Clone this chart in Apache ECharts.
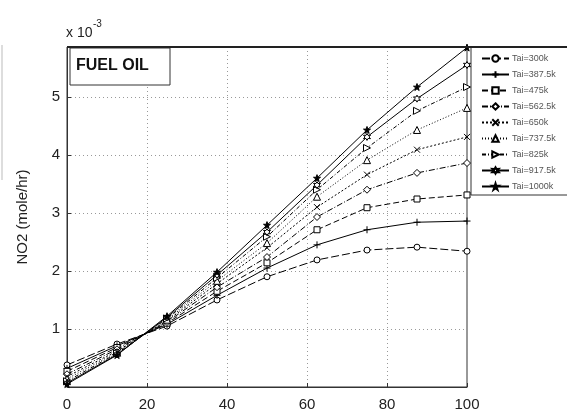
<!DOCTYPE html>
<html>
<head>
<meta charset="utf-8">
<script src="https://cdn.jsdelivr.net/npm/echarts@6/dist/echarts.min.js"></script>
<style>html,body{margin:0;padding:0;background:#fff}#c{width:567px;height:416px}</style>
</head>
<body>
<div id="c"></div>
<script>
const xValues = [0, 12.5, 25, 37.5, 50, 62.5, 75, 87.5, 100];
const seriesNames = ['Tai=300k','Tai=387.5k','Tai=475k','Tai=562.5k','Tai=650k','Tai=737.5k','Tai=825k','Tai=917.5k','Tai=1000k'];
const t300   = [0.38, 0.74, 1.05, 1.50, 1.90, 2.19, 2.36, 2.41, 2.34];
const t387   = [0.32, 0.71, 1.08, 1.58, 2.05, 2.45, 2.71, 2.84, 2.86];
const t475   = [0.27, 0.68, 1.10, 1.65, 2.14, 2.71, 3.09, 3.24, 3.31];
const t562   = [0.22, 0.65, 1.12, 1.72, 2.24, 2.93, 3.40, 3.69, 3.86];
const t650   = [0.18, 0.62, 1.14, 1.78, 2.40, 3.10, 3.66, 4.09, 4.31];
const t737   = [0.14, 0.60, 1.16, 1.83, 2.48, 3.28, 3.91, 4.43, 4.81];
const t825   = [0.10, 0.58, 1.18, 1.88, 2.59, 3.40, 4.12, 4.76, 5.17];
const t917   = [0.07, 0.56, 1.20, 1.93, 2.67, 3.48, 4.31, 4.97, 5.55];
const t1000  = [0.05, 0.55, 1.22, 1.98, 2.79, 3.60, 4.43, 5.17, 5.85];
const xTicks = [0, 20, 40, 60, 80, 100];
const yTicks = [1, 2, 3, 4, 5];

const allData = [t300, t387, t475, t562, t650, t737, t825, t917, t1000];
const star6 = 'path://M5,0L6.3,2.8L9.3,2.5L7.5,5L9.3,7.5L6.3,7.2L5,10L3.7,7.2L0.7,7.5L2.5,5L0.7,2.5L3.7,2.8Z';
const star5 = 'path://M5,0L6.2,3.6L10,3.6L6.9,5.8L8.1,9.5L5,7.2L1.9,9.5L3.1,5.8L0,3.6L3.8,3.6Z';
const styles = [
  {symbol:'circle', rot:0, dash:[8,3], fill:'#fff', size:6},
  {symbol:'path://M0,5L10,5M5,0L5,10', rot:0, dash:'solid', fill:'#fff', size:7},
  {symbol:'rect', rot:0, dash:[6,3], fill:'#fff', size:6},
  {symbol:'diamond', rot:0, dash:[6,2,1,2], fill:'#fff', size:7},
  {symbol:'path://M0,0L10,10M10,0L0,10', rot:0, dash:[2,2], fill:'#fff', size:6},
  {symbol:'triangle', rot:0, dash:[1,2], fill:'#fff', size:7},
  {symbol:'triangle', rot:-90, dash:[4,2,1,2], fill:'#fff', size:7},
  {symbol:star6, rot:0, dash:'solid', fill:'#fff', size:7},
  {symbol:star5, rot:0, dash:'solid', fill:'#000', size:7}
];

const series = seriesNames.map((name, i) => ({
  name: name,
  type: 'line',
  data: xValues.map((x, j) => [x, allData[i][j]]),
  symbol: styles[i].symbol,
  symbolRotate: styles[i].rot,
  symbolSize: styles[i].size,
  showAllSymbol: true,
  lineStyle: {color: '#000', width: 1, type: styles[i].dash},
  itemStyle: {color: styles[i].fill, borderColor: '#000', borderWidth: 1},
  emphasis: {disabled: true},
  animation: false,
  z: 3 + i
}));

const chart = echarts.init(document.getElementById('c'), null, {renderer: 'canvas'});
chart.setOption({
  animation: false,
  backgroundColor: '#fff',
  grid: {left: 67, right: 100, top: 47, bottom: 29, show: true, borderColor: '#333', borderWidth: 1},
  xAxis: {
    type: 'value', min: 0, max: 100, interval: 20,
    axisLine: {show: true, lineStyle: {color: '#333'}},
    axisTick: {show: true, inside: true, length: 4, lineStyle: {color: '#333'}},
    axisLabel: {color: '#222', fontSize: 15, fontFamily: 'Liberation Sans, Arial, sans-serif', margin: 10,
      formatter: v => xTicks.includes(v) ? String(v) : ''},
    splitLine: {show: true, lineStyle: {color: '#999', type: [1, 3], width: 1}}
  },
  yAxis: {
    type: 'value', min: 0, max: 5.86, interval: 1,
    name: 'NO2 (mole/hr)', nameLocation: 'middle', nameGap: 37,
    nameTextStyle: {color: '#222', fontSize: 15, fontFamily: 'Liberation Sans, Arial, sans-serif'},
    axisLine: {show: true, lineStyle: {color: '#333'}},
    axisTick: {show: true, inside: true, length: 4, lineStyle: {color: '#333'}},
    axisLabel: {color: '#222', fontSize: 15, fontFamily: 'Liberation Sans, Arial, sans-serif', margin: 7,
      formatter: v => yTicks.includes(v) ? String(v) : ''},
    splitLine: {show: true, lineStyle: {color: '#999', type: [1, 3], width: 1}}
  },
  legend: {
    orient: 'vertical', left: 476, top: 49,
    itemWidth: 27, itemHeight: 8, itemGap: 7,
    data: seriesNames,
    textStyle: {color: '#555', fontSize: 9, fontFamily: 'Liberation Sans Narrow, Liberation Sans, Arial, sans-serif', padding: [0,0,0,-2]},
    selectedMode: false
  },
  graphic: [
    {type: 'rect', shape: {x: 471, y: 47, width: 110, height: 148}, style: {fill: 'none', stroke: '#333', lineWidth: 1}, z: 1},
    {type: 'line', shape: {x1: 67, y1: 47, x2: 567, y2: 47}, style: {stroke: '#222', lineWidth: 2}, z: 20},
    {type: 'rect', shape: {x: 70, y: 48, width: 100, height: 37}, style: {fill: '#fff', stroke: '#333', lineWidth: 1}, z: 10},
    {type: 'text', x: 76, y: 58, style: {text: 'FUEL OIL', fontSize: 16, fontWeight: 'bold', fill: '#111', fontFamily: 'Liberation Sans, Arial, sans-serif'}, z: 11},
    {type: 'text', x: 66, y: 26, style: {text: 'x 10', fontSize: 14, fill: '#222', fontFamily: 'Liberation Sans, Arial, sans-serif'}},
    {type: 'text', x: 93, y: 19, style: {text: '-3', fontSize: 10, fill: '#222', fontFamily: 'Liberation Sans, Arial, sans-serif'}},
    {type: 'line', shape: {x1: 2, y1: 45, x2: 2, y2: 180}, style: {stroke: '#bbb', lineWidth: 1}}
  ],
  series: series
});
</script>
</body>
</html>
